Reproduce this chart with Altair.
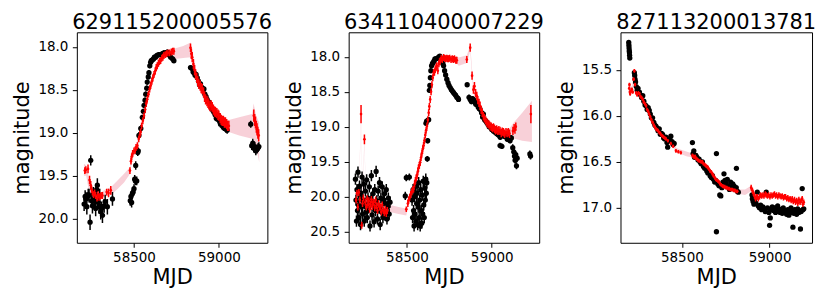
import altair as alt
import pandas as pd

# ---------------- data (mjd, magnitude, error) ----------------
TITLES = ["629115200005576", "634110400007229", "827113200013781"]

P1_BLACK = [
    (58206, 19.83, 0.08), (58212, 19.74, 0.07), (58216, 19.77, 0.08), (58222, 19.86, 0.09),
    (58230, 19.72, 0.07), (58235, 19.73, 0.08), (58241, 20.04, 0.09), (58245, 19.32, 0.06),
    (58250, 19.79, 0.08), (58255, 19.85, 0.09), (58260, 19.70, 0.07), (58265, 19.77, 0.08),
    (58270, 19.80, 0.08), (58274, 19.88, 0.09), (58280, 19.66, 0.07), (58284, 19.61, 0.08),
    (58290, 19.81, 0.08), (58294, 19.85, 0.09), (58298, 19.73, 0.08), (58304, 19.92, 0.09),
    (58309, 19.88, 0.08), (58314, 19.96, 0.09), (58324, 19.85, 0.08), (58330, 19.80, 0.08),
    (58343, 19.86, 0.09), (58373, 19.77, 0.08), (58478, 19.79, 0.06), (58482, 19.74, 0.06),
    (58486, 19.81, 0.06), (58490, 19.71, 0.06), (58495, 19.69, 0.05), (58500, 19.65, 0.05),
    (58504, 19.54, 0.05), (58508, 19.56, 0.05), (58510, 19.38, 0.05), (58516, 19.56, 0.05),
    (58522, 19.23, 0.04), (58525, 19.21, 0.04), (58529, 19.03, 0.04), (58540, 18.95, 0.04),
    (58549, 18.82, 0.03), (58555, 18.75, 0.03), (58559, 18.68, 0.03), (58565, 18.62, 0.03),
    (58569, 18.55, 0.03), (58575, 18.48, 0.03), (58578, 18.41, 0.03), (58584, 18.35, 0.03),
    (58588, 18.30, 0.03), (58593, 18.22, 0.03), (58598, 18.18, 0.03), (58602, 18.16, 0.03),
    (58608, 18.15, 0.03), (58615, 18.14, 0.03), (58620, 18.12, 0.03), (58627, 18.12, 0.03),
    (58635, 18.10, 0.03), (58645, 18.09, 0.03), (58657, 18.09, 0.03), (58665, 18.08, 0.03),
    (58676, 18.07, 0.03), (58685, 18.07, 0.03), (58696, 18.06, 0.03), (58705, 18.09, 0.03),
    (58716, 18.12, 0.03), (58728, 18.14, 0.03), (58735, 18.16, 0.03),
    (58833, 18.24, 0.03), (58840, 18.25, 0.03), (58848, 18.29, 0.03), (58853, 18.30, 0.03),
    (58860, 18.33, 0.03), (58866, 18.32, 0.03), (58873, 18.36, 0.03), (58880, 18.40, 0.03),
    (58886, 18.44, 0.03), (58892, 18.43, 0.03), (58900, 18.47, 0.03), (58912, 18.49, 0.03),
    (58918, 18.55, 0.03), (58925, 18.58, 0.03), (58931, 18.61, 0.03), (58940, 18.64, 0.03),
    (58951, 18.68, 0.03), (58958, 18.72, 0.03), (58965, 18.74, 0.03), (58971, 18.76, 0.03),
    (58978, 18.79, 0.03), (58985, 18.83, 0.03), (58990, 18.84, 0.03), (58998, 18.80, 0.03),
    (59005, 18.87, 0.03), (59010, 18.90, 0.04), (59018, 18.88, 0.04), (59025, 18.93, 0.04),
    (59029, 18.94, 0.04), (59035, 18.91, 0.04), (59042, 18.96, 0.04), (59049, 18.97, 0.04),
    (59188, 18.90, 0.04), (59194, 19.15, 0.05), (59200, 19.12, 0.05), (59206, 19.18, 0.05),
    (59212, 19.16, 0.05), (59218, 19.21, 0.05), (59225, 19.19, 0.05), (59232, 19.17, 0.05),
    (59236, 19.16, 0.05),
]

P1_RED = [
    (58210, 19.44, 0.04), (58216, 19.43, 0.04), (58229, 19.42, 0.05), (58238, 19.55, 0.05),
    (58245, 19.61, 0.05), (58250, 19.66, 0.04), (58255, 19.69, 0.04), (58262, 19.72, 0.04),
    (58268, 19.70, 0.04), (58274, 19.73, 0.04), (58282, 19.76, 0.04), (58288, 19.72, 0.04),
    (58294, 19.75, 0.04), (58300, 19.74, 0.04), (58306, 19.73, 0.04), (58314, 19.73, 0.04),
    (58339, 19.69, 0.04), (58350, 19.70, 0.05), (58363, 19.67, 0.05), (58476, 19.44, 0.04),
    (58482, 19.33, 0.04), (58486, 19.28, 0.04), (58492, 19.24, 0.04), (58500, 19.21, 0.04),
    (58507, 19.20, 0.04), (58512, 19.17, 0.04), (58520, 19.15, 0.04), (58528, 19.07, 0.04),
    (58535, 19.02, 0.04), (58539, 18.99, 0.04), (58545, 18.92, 0.04), (58552, 18.86, 0.04),
    (58559, 18.80, 0.04), (58566, 18.73, 0.04), (58572, 18.66, 0.04), (58578, 18.61, 0.04),
    (58585, 18.55, 0.04), (58592, 18.49, 0.04), (58598, 18.45, 0.04), (58605, 18.40, 0.04),
    (58611, 18.36, 0.04), (58618, 18.32, 0.04), (58625, 18.28, 0.04), (58631, 18.24, 0.04),
    (58637, 18.22, 0.04), (58644, 18.19, 0.04), (58650, 18.17, 0.04), (58657, 18.16, 0.04),
    (58664, 18.13, 0.04), (58670, 18.12, 0.04), (58676, 18.10, 0.04), (58684, 18.09, 0.04),
    (58692, 18.08, 0.04), (58700, 18.07, 0.04), (58710, 18.07, 0.04), (58720, 18.06, 0.04),
    (58728, 18.05, 0.04), (58735, 18.05, 0.04), (58833, 18.01, 0.05), (58838, 18.08, 0.06),
    (58843, 18.12, 0.06), (58850, 18.20, 0.06), (58857, 18.27, 0.06), (58863, 18.32, 0.06),
    (58870, 18.36, 0.06), (58876, 18.40, 0.06), (58882, 18.43, 0.06), (58890, 18.45, 0.06),
    (58896, 18.48, 0.06), (58902, 18.49, 0.06), (58910, 18.53, 0.06), (58916, 18.58, 0.06),
    (58922, 18.61, 0.06), (58930, 18.63, 0.06), (58936, 18.65, 0.06), (58941, 18.67, 0.06),
    (58948, 18.69, 0.06), (58955, 18.68, 0.06), (58961, 18.70, 0.06), (58968, 18.73, 0.06),
    (58975, 18.75, 0.06), (58980, 18.76, 0.06), (58988, 18.77, 0.06), (58995, 18.79, 0.06),
    (59000, 18.80, 0.06), (59008, 18.83, 0.06), (59014, 18.85, 0.06), (59020, 18.86, 0.06),
    (59027, 18.86, 0.06), (59033, 18.88, 0.06), (59039, 18.88, 0.06), (59046, 18.90, 0.06),
    (59052, 18.92, 0.06), (59059, 18.92, 0.06), (59206, 18.80, 0.07), (59211, 18.85, 0.07),
    (59216, 18.88, 0.07), (59221, 18.93, 0.07), (59225, 18.96, 0.07), (59230, 19.00, 0.07),
    (59235, 19.03, 0.07),
]

# band: (mjd, bright edge, faint edge)
P1_BAND = [
    (58205, 19.36, 19.50), (58218, 19.38, 19.50), (58232, 19.50, 19.65), (58245, 19.62, 19.74),
    (58260, 19.68, 19.76), (58280, 19.70, 19.78), (58300, 19.70, 19.77), (58330, 19.66, 19.74),
    (58365, 19.63, 19.72), (58400, 19.56, 19.66), (58440, 19.48, 19.58), (58476, 19.40, 19.48),
    (58490, 19.25, 19.32), (58510, 19.15, 19.22), (58540, 18.95, 19.02), (58570, 18.66, 18.73),
    (58600, 18.42, 18.49), (58630, 18.23, 18.30), (58660, 18.12, 18.18), (58700, 18.05, 18.10),
    (58740, 18.02, 18.14), (58790, 17.99, 18.13), (58834, 17.95, 18.12), (58845, 18.05, 18.18),
    (58870, 18.30, 18.40), (58900, 18.44, 18.54), (58930, 18.58, 18.68), (58960, 18.66, 18.76),
    (59000, 18.75, 18.84), (59030, 18.83, 18.92), (59059, 18.85, 18.99), (59120, 18.82, 19.03),
    (59196, 18.78, 19.07), (59205, 18.66, 19.07), (59220, 18.80, 19.18), (59238, 18.88, 19.34),
]

P2_BLACK = [
    (58196, 19.75, 0.08), (58199, 20.05, 0.08), (58202, 20.35, 0.08), (58205, 19.90, 0.08),
    (58208, 20.20, 0.08), (58211, 19.65, 0.08), (58214, 20.12, 0.08), (58217, 20.30, 0.08),
    (58220, 19.85, 0.08), (58223, 20.00, 0.08), (58226, 20.40, 0.08), (58229, 19.95, 0.08),
    (58232, 20.15, 0.08), (58235, 19.72, 0.08), (58238, 20.25, 0.08), (58241, 20.05, 0.08),
    (58245, 19.82, 0.08), (58248, 20.35, 0.08), (58251, 20.10, 0.08), (58255, 19.92, 0.08),
    (58258, 20.22, 0.08), (58262, 19.76, 0.08), (58266, 20.30, 0.08), (58270, 20.02, 0.08),
    (58274, 20.16, 0.08), (58278, 19.86, 0.08), (58282, 20.42, 0.08), (58286, 20.06, 0.08),
    (58290, 19.70, 0.08), (58294, 20.26, 0.08), (58298, 19.96, 0.08), (58302, 20.12, 0.08),
    (58306, 20.36, 0.08), (58310, 19.90, 0.08), (58314, 20.20, 0.08), (58318, 19.64, 0.08),
    (58322, 20.06, 0.08), (58326, 20.32, 0.08), (58330, 19.92, 0.08), (58334, 20.16, 0.08),
    (58338, 19.80, 0.08), (58342, 20.40, 0.08), (58346, 20.02, 0.08), (58350, 20.22, 0.08),
    (58354, 19.86, 0.08), (58358, 20.30, 0.08), (58362, 20.06, 0.08), (58366, 19.96, 0.08),
    (58370, 20.26, 0.08), (58374, 20.10, 0.08), (58378, 19.90, 0.08), (58382, 20.32, 0.08),
    (58386, 20.14, 0.08), (58390, 20.02, 0.08), (58395, 20.25, 0.08), (58400, 20.08, 0.08),
    (58490, 19.99, 0.06), (58496, 19.73, 0.05), (58514, 19.72, 0.05),
    (58530, 20.05, 0.08), (58533, 20.30, 0.08), (58536, 19.90, 0.08), (58539, 20.20, 0.08),
    (58542, 20.42, 0.08), (58545, 20.00, 0.08), (58548, 20.25, 0.08), (58551, 19.85, 0.08),
    (58554, 20.35, 0.08), (58557, 20.10, 0.08), (58560, 19.95, 0.08), (58563, 20.40, 0.08),
    (58566, 20.15, 0.08), (58569, 19.80, 0.08), (58572, 20.30, 0.08), (58575, 20.05, 0.08),
    (58578, 20.42, 0.08), (58581, 19.90, 0.08), (58584, 20.20, 0.08), (58587, 20.38, 0.08),
    (58590, 19.98, 0.08), (58593, 20.25, 0.08), (58596, 19.78, 0.08), (58599, 20.12, 0.08),
    (58602, 20.30, 0.08), (58605, 19.88, 0.08), (58608, 20.05, 0.08), (58611, 19.75, 0.08),
    (58614, 19.95, 0.08), (58617, 19.80, 0.08),
    (58612, 18.95, 0.04), (58616, 18.92, 0.04), (58620, 19.46, 0.04), (58622, 19.20, 0.04),
    (58628, 18.90, 0.04), (58632, 18.48, 0.03), (58635, 18.41, 0.03), (58638, 18.30, 0.03),
    (58641, 18.20, 0.03), (58645, 18.13, 0.03), (58650, 18.10, 0.03), (58655, 18.08, 0.03),
    (58660, 18.06, 0.03), (58665, 18.03, 0.03), (58672, 18.03, 0.03), (58680, 18.02, 0.03),
    (58688, 18.00, 0.03), (58694, 17.99, 0.03), (58700, 18.02, 0.03), (58706, 18.06, 0.03),
    (58712, 18.10, 0.03), (58716, 18.13, 0.03), (58722, 18.20, 0.03), (58728, 18.26, 0.03),
    (58735, 18.32, 0.03), (58742, 18.37, 0.03), (58748, 18.41, 0.03), (58755, 18.44, 0.03),
    (58762, 18.47, 0.03), (58768, 18.49, 0.03), (58774, 18.51, 0.03), (58780, 18.53, 0.03),
    (58787, 18.55, 0.03), (58794, 18.58, 0.03), (58800, 18.59, 0.03), (58804, 18.61, 0.03),
    (58855, 18.40, 0.03), (58866, 18.58, 0.04), (58873, 18.61, 0.04), (58880, 18.64, 0.04),
    (58886, 18.60, 0.04), (58892, 18.61, 0.04), (58900, 18.65, 0.04), (58906, 18.68, 0.04),
    (58912, 18.66, 0.04), (58920, 18.72, 0.04), (58926, 18.74, 0.04), (58931, 18.75, 0.04),
    (58940, 18.80, 0.04), (58946, 18.86, 0.04), (58951, 18.82, 0.04), (58958, 18.90, 0.04),
    (58965, 18.92, 0.04), (58971, 18.94, 0.04), (58978, 18.97, 0.04), (58985, 19.00, 0.04),
    (58990, 19.00, 0.04), (59000, 19.04, 0.04), (59010, 19.06, 0.04), (59020, 19.08, 0.04),
    (59030, 19.10, 0.04), (59040, 19.12, 0.04), (59049, 19.27, 0.04), (59050, 19.15, 0.04),
    (59060, 19.28, 0.04), (59068, 19.10, 0.04), (59076, 19.14, 0.04), (59084, 19.12, 0.04),
    (59092, 19.18, 0.04), (59100, 19.15, 0.04), (59108, 19.20, 0.04), (59116, 19.16, 0.04),
    (59124, 19.30, 0.05), (59130, 19.36, 0.05), (59134, 19.42, 0.05), (59138, 19.48, 0.05),
    (59142, 19.40, 0.05), (59146, 19.56, 0.05), (59150, 19.45, 0.05), (59225, 19.39, 0.05),
    (59229, 19.42, 0.05),
]

P2_RED = [
    (58200, 20.05, 0.05), (58205, 19.95, 0.05), (58210, 20.15, 0.05), (58216, 19.94, 0.05),
    (58222, 20.05, 0.05), (58229, 18.82, 0.13), (58233, 20.41, 0.05), (58238, 20.10, 0.05),
    (58243, 20.02, 0.05), (58249, 19.18, 0.07), (58254, 20.08, 0.05), (58260, 20.15, 0.05),
    (58265, 20.03, 0.05), (58270, 20.12, 0.05), (58275, 20.06, 0.05), (58280, 20.18, 0.05),
    (58284, 20.11, 0.05), (58290, 20.04, 0.05), (58295, 20.14, 0.05), (58300, 20.08, 0.05),
    (58304, 20.08, 0.05), (58310, 20.16, 0.05), (58315, 20.05, 0.05), (58320, 20.13, 0.05),
    (58326, 20.20, 0.05), (58332, 20.10, 0.05), (58338, 20.15, 0.05), (58343, 20.15, 0.05),
    (58348, 20.22, 0.05), (58354, 20.12, 0.05), (58360, 20.20, 0.05), (58366, 20.23, 0.05),
    (58372, 20.18, 0.05), (58378, 20.24, 0.05), (58384, 20.20, 0.05), (58496, 20.18, 0.04),
    (58505, 20.10, 0.05), (58510, 20.05, 0.05), (58516, 20.01, 0.05), (58522, 19.97, 0.05),
    (58528, 19.93, 0.05), (58534, 19.90, 0.05), (58539, 19.89, 0.05), (58545, 19.82, 0.05),
    (58550, 19.77, 0.05), (58555, 19.73, 0.05), (58559, 19.70, 0.05), (58564, 19.64, 0.05),
    (58568, 19.59, 0.05), (58573, 19.55, 0.05), (58578, 19.51, 0.05), (58583, 19.44, 0.05),
    (58588, 19.38, 0.05), (58593, 19.32, 0.05), (58598, 19.27, 0.05), (58603, 19.20, 0.05),
    (58608, 19.12, 0.05), (58613, 19.05, 0.05), (58618, 18.99, 0.05), (58623, 18.90, 0.05),
    (58628, 18.80, 0.05), (58632, 18.71, 0.05), (58637, 18.61, 0.05), (58642, 18.50, 0.05),
    (58647, 18.40, 0.05), (58652, 18.30, 0.05), (58657, 18.23, 0.05), (58662, 18.22, 0.05),
    (58667, 18.18, 0.05), (58672, 18.15, 0.05), (58676, 18.13, 0.05), (58682, 18.20, 0.05),
    (58688, 18.10, 0.05), (58692, 18.07, 0.05), (58696, 18.06, 0.05), (58702, 18.02, 0.05),
    (58708, 18.04, 0.05), (58716, 18.01, 0.05), (58722, 18.02, 0.05), (58728, 18.03, 0.05),
    (58735, 18.02, 0.05), (58740, 18.03, 0.05), (58745, 18.03, 0.05), (58752, 18.02, 0.05),
    (58760, 18.04, 0.05), (58767, 18.03, 0.05), (58774, 18.04, 0.05), (58780, 18.03, 0.05),
    (58788, 18.05, 0.05), (58794, 18.05, 0.05), (58853, 18.04, 0.05), (58873, 17.87, 0.06),
    (58884, 18.27, 0.06), (58892, 18.47, 0.06), (58898, 18.42, 0.06), (58905, 18.52, 0.06),
    (58912, 18.56, 0.06), (58918, 18.62, 0.06), (58925, 18.66, 0.06), (58931, 18.70, 0.06),
    (58938, 18.76, 0.06), (58944, 18.80, 0.06), (58951, 18.85, 0.06), (58957, 18.88, 0.06),
    (58964, 18.91, 0.06), (58971, 18.94, 0.06), (58978, 18.96, 0.06), (58984, 18.97, 0.06),
    (58990, 18.99, 0.06), (58997, 19.00, 0.06), (59004, 19.02, 0.06), (59010, 19.01, 0.06),
    (59016, 19.03, 0.06), (59022, 19.05, 0.06), (59029, 19.04, 0.06), (59036, 19.06, 0.06),
    (59042, 19.05, 0.06), (59049, 19.06, 0.06), (59056, 19.09, 0.06), (59062, 19.07, 0.06),
    (59069, 19.08, 0.06), (59076, 19.10, 0.06), (59084, 19.08, 0.06), (59091, 19.09, 0.06),
    (59098, 19.08, 0.06), (59105, 19.10, 0.06), (59125, 19.06, 0.06), (59132, 19.02, 0.06),
    (59137, 19.04, 0.06), (59142, 19.00, 0.06), (59231, 18.82, 0.13),
]

P2_BAND = [
    (58200, 20.00, 20.10), (58216, 19.90, 20.00), (58229, 18.78, 18.90), (58238, 19.95, 20.10),
    (58249, 19.14, 19.24), (58258, 20.02, 20.12), (58280, 20.08, 20.18), (58300, 20.05, 20.14),
    (58320, 20.08, 20.18), (58340, 20.10, 20.20), (58360, 20.13, 20.23), (58384, 20.15, 20.25),
    (58400, 20.12, 20.22), (58450, 20.15, 20.25), (58496, 20.17, 20.27), (58510, 20.00, 20.10),
    (58540, 19.84, 19.94), (58570, 19.54, 19.62), (58600, 19.20, 19.28), (58630, 18.72, 18.80),
    (58660, 18.17, 18.25), (58690, 18.05, 18.13), (58720, 17.98, 18.05), (58760, 17.99, 18.07),
    (58794, 18.00, 18.10), (58806, 18.01, 18.13), (58853, 17.98, 18.09), (58873, 17.84, 17.92),
    (58892, 18.42, 18.52), (58920, 18.60, 18.68), (58950, 18.80, 18.88), (58980, 18.93, 19.01),
    (59010, 18.98, 19.06), (59040, 19.01, 19.09), (59070, 19.04, 19.12), (59100, 19.04, 19.14),
    (59130, 18.94, 19.17), (59180, 18.80, 19.20), (59237, 18.63, 19.22),
]

P3_BLACK = [
    (58197, 15.20, 0.01), (58198, 15.23, 0.01), (58199, 15.26, 0.01), (58200, 15.29, 0.01),
    (58201, 15.31, 0.01), (58202, 15.34, 0.01), (58203, 15.37, 0.01), (58229, 15.53, 0.01),
    (58231, 15.56, 0.01), (58233, 15.60, 0.01), (58236, 15.63, 0.01), (58240, 15.68, 0.01),
    (58245, 15.72, 0.01), (58250, 15.70, 0.01), (58258, 15.74, 0.01), (58264, 15.77, 0.01),
    (58270, 15.80, 0.01), (58277, 15.78, 0.01), (58283, 15.84, 0.01), (58290, 15.88, 0.01),
    (58296, 15.89, 0.01), (58302, 15.93, 0.01), (58308, 15.91, 0.01), (58314, 15.94, 0.01),
    (58320, 15.98, 0.01), (58326, 16.02, 0.01), (58333, 16.02, 0.01), (58340, 16.07, 0.01),
    (58346, 16.10, 0.01), (58352, 16.11, 0.01), (58358, 16.13, 0.01), (58364, 16.16, 0.01),
    (58371, 16.14, 0.01), (58377, 16.20, 0.01), (58384, 16.19, 0.01), (58390, 16.20, 0.01),
    (58396, 16.24, 0.01), (58403, 16.25, 0.01), (58409, 16.23, 0.01), (58415, 16.29, 0.01),
    (58419, 16.34, 0.01), (58425, 16.27, 0.01), (58431, 16.25, 0.01), (58437, 16.22, 0.01),
    (58444, 16.28, 0.01), (58450, 16.31, 0.01), (58456, 16.30, 0.01), (58560, 16.29, 0.01),
    (58564, 16.41, 0.01), (58568, 16.38, 0.01), (58572, 16.45, 0.01), (58576, 16.43, 0.01),
    (58580, 16.43, 0.01), (58586, 16.45, 0.01), (58592, 16.48, 0.01), (58598, 16.47, 0.01),
    (58604, 16.50, 0.01), (58610, 16.52, 0.01), (58617, 16.50, 0.01), (58623, 16.55, 0.01),
    (58630, 16.57, 0.01), (58636, 16.56, 0.01), (58642, 16.60, 0.01), (58648, 16.62, 0.01),
    (58655, 16.61, 0.01), (58661, 16.65, 0.01), (58668, 16.67, 0.01), (58674, 16.65, 0.01),
    (58680, 16.69, 0.01), (58687, 16.72, 0.01), (58693, 16.70, 0.01), (58697, 16.41, 0.01),
    (58697, 17.26, 0.01), (58705, 16.74, 0.01), (58712, 16.76, 0.01), (58716, 16.86, 0.01),
    (58722, 16.87, 0.01), (58728, 16.78, 0.01), (58734, 16.72, 0.01), (58740, 16.63, 0.01),
    (58746, 16.70, 0.01), (58752, 16.74, 0.01), (58759, 16.69, 0.01), (58765, 16.76, 0.01),
    (58771, 16.80, 0.01), (58778, 16.72, 0.01), (58784, 16.78, 0.01), (58790, 16.74, 0.01),
    (58797, 16.76, 0.01), (58803, 16.80, 0.01), (58810, 16.78, 0.01), (58811, 16.57, 0.01),
    (58816, 16.82, 0.01), (58822, 16.83, 0.01), (58900, 16.86, 0.01), (58902, 16.90, 0.01),
    (58906, 16.93, 0.01), (58911, 16.96, 0.01), (58916, 16.90, 0.01), (58922, 16.95, 0.01),
    (58930, 16.83, 0.01), (58936, 16.98, 0.01), (58942, 17.00, 0.01), (58949, 16.97, 0.01),
    (58955, 17.02, 0.01), (58962, 16.99, 0.01), (58968, 17.01, 0.01), (58975, 17.04, 0.01),
    (58981, 16.83, 0.01), (58988, 17.00, 0.01), (58996, 17.05, 0.01), (59000, 17.19, 0.01),
    (59004, 17.11, 0.01), (59010, 17.02, 0.01), (59015, 16.99, 0.01), (59022, 17.03, 0.01),
    (59028, 17.00, 0.01), (59034, 17.05, 0.01), (59040, 17.02, 0.01), (59046, 16.98, 0.01),
    (59053, 17.01, 0.01), (59060, 17.05, 0.01), (59066, 17.02, 0.01), (59072, 17.06, 0.01),
    (59078, 17.00, 0.01), (59085, 17.04, 0.01), (59091, 17.03, 0.01), (59097, 17.07, 0.01),
    (59104, 17.02, 0.01), (59110, 17.08, 0.01), (59116, 17.04, 0.01), (59122, 17.00, 0.01),
    (59129, 17.05, 0.01), (59133, 17.21, 0.01), (59138, 17.06, 0.01), (59143, 17.02, 0.01),
    (59148, 17.03, 0.01), (59154, 17.07, 0.01), (59160, 17.01, 0.01), (59167, 17.05, 0.01),
    (59172, 17.03, 0.01), (59176, 17.23, 0.01), (59180, 17.04, 0.01), (59186, 16.79, 0.01),
    (59190, 17.02, 0.01), (59195, 17.01, 0.01),
]

P3_RED = [
    (58200, 15.70, 0.02), (58201, 15.66, 0.02), (58203, 15.74, 0.02), (58205, 15.76, 0.02),
    (58210, 15.73, 0.02), (58215, 15.71, 0.02), (58220, 15.74, 0.02), (58225, 15.60, 0.02),
    (58229, 15.51, 0.02), (58233, 15.66, 0.02), (58239, 15.75, 0.02), (58245, 15.77, 0.02),
    (58252, 15.75, 0.02), (58258, 15.76, 0.02), (58264, 15.79, 0.02), (58270, 15.80, 0.02),
    (58277, 15.82, 0.02), (58283, 15.85, 0.02), (58290, 15.87, 0.02), (58296, 15.89, 0.02),
    (58302, 15.93, 0.02), (58308, 15.95, 0.02), (58314, 15.98, 0.02), (58320, 16.01, 0.02),
    (58326, 16.04, 0.02), (58333, 16.07, 0.02), (58340, 16.10, 0.02), (58346, 16.12, 0.02),
    (58352, 16.14, 0.02), (58358, 16.15, 0.02), (58364, 16.16, 0.02), (58371, 16.18, 0.02),
    (58377, 16.19, 0.02), (58384, 16.21, 0.02), (58390, 16.22, 0.02), (58396, 16.23, 0.02),
    (58403, 16.24, 0.02), (58409, 16.25, 0.02), (58420, 16.27, 0.02), (58437, 16.30, 0.02),
    (58450, 16.33, 0.02), (58466, 16.38, 0.02), (58480, 16.39, 0.02), (58494, 16.40, 0.02),
    (58560, 16.43, 0.02), (58565, 16.44, 0.02), (58570, 16.45, 0.02), (58575, 16.44, 0.02),
    (58580, 16.46, 0.02), (58586, 16.47, 0.02), (58592, 16.48, 0.02), (58598, 16.49, 0.02),
    (58604, 16.49, 0.02), (58610, 16.50, 0.02), (58617, 16.50, 0.02), (58623, 16.52, 0.02),
    (58630, 16.53, 0.02), (58636, 16.54, 0.02), (58642, 16.55, 0.02), (58648, 16.56, 0.02),
    (58655, 16.58, 0.02), (58661, 16.60, 0.02), (58668, 16.61, 0.02), (58674, 16.63, 0.02),
    (58680, 16.65, 0.02), (58687, 16.67, 0.02), (58693, 16.69, 0.02), (58700, 16.70, 0.02),
    (58706, 16.71, 0.02), (58712, 16.72, 0.02), (58718, 16.74, 0.02), (58724, 16.75, 0.02),
    (58731, 16.76, 0.02), (58737, 16.77, 0.02), (58744, 16.77, 0.02), (58750, 16.78, 0.02),
    (58756, 16.78, 0.02), (58763, 16.79, 0.02), (58769, 16.79, 0.02), (58776, 16.80, 0.02),
    (58782, 16.80, 0.02), (58788, 16.80, 0.02), (58795, 16.81, 0.02), (58802, 16.81, 0.02),
    (58809, 16.82, 0.02), (58816, 16.82, 0.02), (58895, 16.78, 0.03), (58902, 16.81, 0.03),
    (58908, 16.84, 0.03), (58914, 16.87, 0.03), (58920, 16.90, 0.03), (58926, 16.88, 0.03),
    (58930, 16.88, 0.03), (58936, 16.90, 0.03), (58943, 16.88, 0.03), (58949, 16.86, 0.03),
    (58955, 16.87, 0.03), (58962, 16.86, 0.03), (58968, 16.87, 0.03), (58975, 16.85, 0.03),
    (58981, 16.86, 0.03), (58988, 16.87, 0.03), (58995, 16.86, 0.03), (59002, 16.88, 0.03),
    (59008, 16.86, 0.03), (59015, 16.87, 0.03), (59021, 16.86, 0.03), (59028, 16.85, 0.03),
    (59034, 16.87, 0.03), (59040, 16.86, 0.03), (59047, 16.88, 0.03), (59053, 16.86, 0.03),
    (59060, 16.87, 0.03), (59066, 16.88, 0.03), (59072, 16.87, 0.03), (59079, 16.89, 0.03),
    (59085, 16.88, 0.03), (59091, 16.88, 0.03), (59098, 16.90, 0.03), (59104, 16.89, 0.03),
    (59110, 16.91, 0.03), (59117, 16.90, 0.03), (59123, 16.92, 0.03), (59129, 16.90, 0.03),
    (59135, 16.93, 0.03), (59142, 16.91, 0.03), (59148, 16.94, 0.03), (59155, 16.92, 0.03),
    (59161, 16.95, 0.03), (59167, 16.91, 0.03), (59174, 16.94, 0.03), (59180, 16.92, 0.03),
    (59186, 16.90, 0.03), (59190, 16.96, 0.03), (59195, 16.94, 0.03),
]

P3_BAND = [
    (58200, 15.66, 15.74), (58215, 15.68, 15.76), (58229, 15.50, 15.60), (58240, 15.70, 15.78),
    (58260, 15.73, 15.79), (58290, 15.85, 15.90), (58320, 15.98, 16.03), (58350, 16.11, 16.16),
    (58380, 16.18, 16.22), (58410, 16.23, 16.27), (58440, 16.28, 16.32), (58470, 16.35, 16.40),
    (58500, 16.37, 16.42), (58530, 16.39, 16.44), (58560, 16.41, 16.45), (58600, 16.47, 16.51),
    (58650, 16.55, 16.59), (58700, 16.68, 16.72), (58750, 16.76, 16.80), (58800, 16.79, 16.83),
    (58830, 16.80, 16.85), (58860, 16.80, 16.86), (58895, 16.76, 16.82), (58920, 16.87, 16.92),
    (58950, 16.84, 16.89), (59000, 16.84, 16.89), (59050, 16.84, 16.89), (59100, 16.87, 16.92),
    (59150, 16.90, 16.95), (59195, 16.91, 16.97),
]

X_DOMAINS = [(58163, 59286), (58156, 59280), (58150, 59242)]
Y_DOMAINS = [(17.83, 20.28), (17.65, 20.66), (15.09, 17.38)]
Y_TICKS = [[18.0, 18.5, 19.0, 19.5, 20.0], [18.0, 18.5, 19.0, 19.5, 20.0, 20.5],
           [15.5, 16.0, 16.5, 17.0]]
X_TICKS = [58500, 59000]
WIDTHS = [191, 191, 192]
HEIGHT = 211

BAND_COLOR = "#dc143c"


def to_df(rows):
    df = pd.DataFrame(rows, columns=["mjd", "mag", "err"])
    df["lo"] = df["mag"] - df["err"]
    df["hi"] = df["mag"] + df["err"]
    return df


def panel(i, black, red, band):
    xs = alt.Scale(domain=list(X_DOMAINS[i]), nice=False, zero=False)
    ys = alt.Scale(domain=list(Y_DOMAINS[i]), nice=False, zero=False, reverse=True)
    xax = alt.X("mjd:Q", scale=xs, title="MJD",
                axis=alt.Axis(values=X_TICKS, format="d"))

    bdf = pd.DataFrame(band, columns=["mjd", "lo", "hi"])
    kdf = to_df(black)
    rdf = to_df(red)

    band_layer = alt.Chart(bdf).mark_area(color=BAND_COLOR, opacity=0.2, clip=True).encode(
        x=xax, y=alt.Y("lo:Q", scale=ys, title="magnitude",
                       axis=alt.Axis(values=Y_TICKS[i], format=".1f")),
        y2="hi:Q")
    k_err = alt.Chart(kdf).mark_rule(color="black", strokeWidth=1.5, clip=True).encode(
        x="mjd:Q", y=alt.Y("lo:Q", scale=ys), y2="hi:Q")
    k_pt = alt.Chart(kdf).mark_circle(color="black", opacity=1, size=28, clip=True).encode(
        x="mjd:Q", y=alt.Y("mag:Q", scale=ys))
    r_err = alt.Chart(rdf).mark_rule(color="red", strokeWidth=1.5, clip=True).encode(
        x="mjd:Q", y=alt.Y("lo:Q", scale=ys), y2="hi:Q")
    r_pt = alt.Chart(rdf).mark_circle(color="red", opacity=1, size=7, clip=True).encode(
        x="mjd:Q", y=alt.Y("mag:Q", scale=ys))

    return alt.layer(band_layer, k_err, k_pt, r_err, r_pt).properties(
        width=WIDTHS[i], height=HEIGHT,
        title=alt.TitleParams(TITLES[i]))


charts = [panel(0, P1_BLACK, P1_RED, P1_BAND),
          panel(1, P2_BLACK, P2_RED, P2_BAND),
          panel(2, P3_BLACK, P3_RED, P3_BAND)]

chart = alt.hconcat(*charts, spacing=81.5, bounds="flush").properties(
    padding={"left": 3, "top": 3, "right": 5, "bottom": 5},
    background="white",
).configure_view(
    stroke="black", strokeWidth=1
).configure_axis(
    grid=False, domain=False, ticks=True, tickColor="black", tickSize=4.5, tickWidth=1,
    labelColor="black", labelFont="DejaVu Sans", labelFontSize=13.5, labelPadding=3.5,
    titleColor="black", titleFont="DejaVu Sans", titleFontSize=21, titleFontWeight="normal",
).configure_axisY(
    titlePadding=5, labelPadding=4.5
).configure_axisX(
    titlePadding=3, labelPadding=3
).configure_title(
    font="DejaVu Sans", fontSize=21, fontWeight="normal", color="black",
    anchor="middle", offset=-1
)

chart.save("out.html", embed_options={"renderer": "svg", "actions": False})
